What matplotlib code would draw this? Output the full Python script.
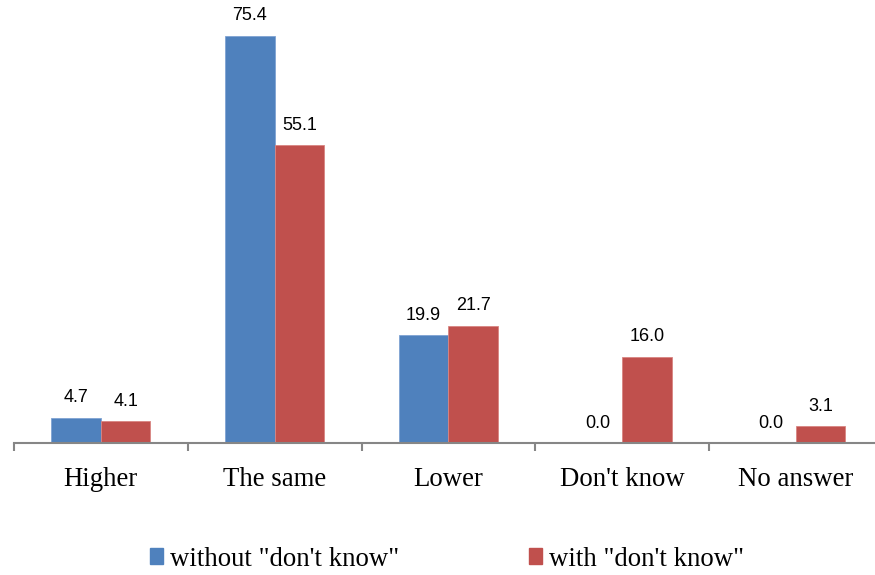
import matplotlib
matplotlib.use("Agg")
import matplotlib.pyplot as plt
import numpy as np

categories = ["Higher", "The same", "Lower", "Don't know", "No answer"]
without_dk = [4.7, 75.4, 19.9, 0.0, 0.0]
with_dk = [4.1, 55.1, 21.7, 16.0, 3.1]
series_names = ['without "don\'t know"', 'with "don\'t know"']

BLUE = "#4F81BD"
RED = "#C0504D"
AXIS_GRAY = "#868686"

W, H = 875, 575
fig = plt.figure(figsize=(W / 100, H / 100), dpi=100)
cat_w_px = 173.75
ax_left = 14
ax_bottom = 443
ax = fig.add_axes([ax_left / W, 1 - ax_bottom / H, 5 * cat_w_px / W, ax_bottom / H])

x = np.arange(len(categories))
bw = 49.5 / cat_w_px
b1 = ax.bar(x - bw / 2, without_dk, width=bw, color=BLUE, edgecolor="#7FA3D3", linewidth=0.6)
b2 = ax.bar(x + bw / 2, with_dk, width=bw, color=RED, edgecolor="#D98582", linewidth=0.6)

# value labels above each bar
for bars, vals in ((b1, without_dk), (b2, with_dk)):
    for rect, v in zip(bars, vals):
        ax.annotate(f"{v:.1f}", (rect.get_x() + rect.get_width() / 2, v),
                    xytext=(0, 11), textcoords="offset points",
                    ha="center", va="baseline", fontsize=13,
                    family="Liberation Sans", color="black")

ax.set_xlim(-0.5, len(categories) - 0.5)
ax.set_ylim(0, 82.0)

for s in ("top", "right", "left"):
    ax.spines[s].set_visible(False)
ax.spines["bottom"].set_color(AXIS_GRAY)
ax.spines["bottom"].set_linewidth(1.5)
ax.set_yticks([])

# tick marks sit between the categories; labels sit at the centres
ax.set_xticks(np.arange(len(categories) + 1) - 0.5)
ax.set_xticklabels([])
ax.tick_params(axis="x", which="major", direction="out", length=6, width=1.5, color=AXIS_GRAY)
ax.set_xticks(x, minor=True)
ax.set_xticklabels(categories, minor=True, fontsize=19.3, family="Liberation Serif")
ax.tick_params(axis="x", which="minor", length=0, pad=17)

handles = [plt.Rectangle((0, 0), 1, 1, color=BLUE), plt.Rectangle((0, 0), 1, 1, color=RED)]
fig.legend(handles, series_names, loc="center", bbox_to_anchor=(0.5 + 9.5 / W, 1 - 559 / H), ncol=2,
           frameon=False, prop={"family": "Liberation Serif", "size": 19.3},
           handlelength=0.5, handleheight=0.5, handletextpad=0.26, columnspacing=4.85)

fig.savefig("out.png", dpi=100)
